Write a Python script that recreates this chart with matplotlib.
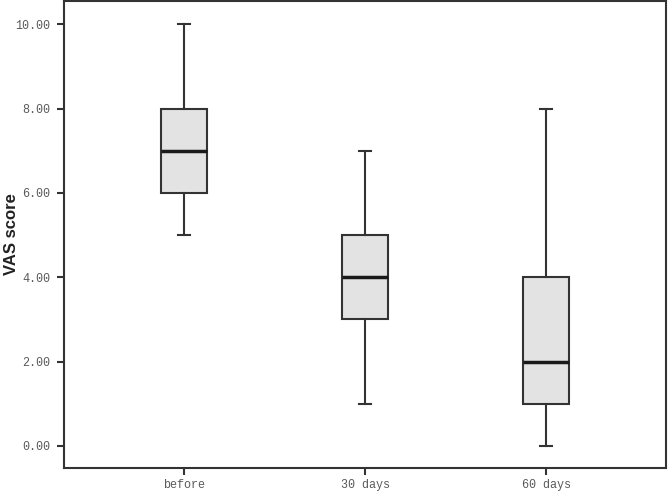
import matplotlib
matplotlib.use("Agg")
import matplotlib.pyplot as plt

# Box plot summary values
categories = ['before', '30 days', '60 days']
whisker_low = [5.0, 1.0, 0.0]
q1 = [6.0, 3.0, 1.0]
median = [7.0, 4.0, 2.0]
q3 = [8.0, 5.0, 4.0]
whisker_high = [10.0, 7.0, 8.0]
y_ticks = [0, 2, 4, 6, 8, 10]

stats = []
for i, name in enumerate(categories):
    stats.append({
        'label': name,
        'whislo': whisker_low[i],
        'q1': q1[i],
        'med': median[i],
        'q3': q3[i],
        'whishi': whisker_high[i],
        'fliers': [],
    })

fig = plt.figure(figsize=(6.68, 4.95), dpi=100)
ax = fig.add_axes([0.096, 0.055, 0.901, 0.943])

ax.bxp(
    stats,
    positions=range(len(categories)),
    widths=0.254,
    patch_artist=True,
    showfliers=False,
    boxprops=dict(facecolor='#e3e3e3', edgecolor='#333333', linewidth=1.5),
    medianprops=dict(color='#1a1a1a', linewidth=2.5),
    whiskerprops=dict(color='#333333', linewidth=1.5),
    capprops=dict(color='#333333', linewidth=1.5),
    capwidths=0.07,
)

ax.set_xlim(-0.663, 2.663)
ax.set_ylim(-0.52, 10.55)
ax.set_yticks(y_ticks)
ax.set_yticklabels([f'{v:.2f}' for v in y_ticks])
ax.set_xticks(range(len(categories)))
ax.set_xticklabels(categories)

mono = 'Liberation Mono'
for lab in ax.get_xticklabels() + ax.get_yticklabels():
    lab.set_fontfamily(mono)
    lab.set_fontsize(8.5)
    lab.set_color('#5a5a5a')

ax.tick_params(axis='both', direction='out', length=5, width=1.5, color='#333333')
ax.tick_params(axis='y', pad=5)
ax.tick_params(axis='x', pad=3)

for spine in ax.spines.values():
    spine.set_linewidth(1.5)
    spine.set_color('#333333')

ax.set_ylabel('VAS score', fontfamily='Liberation Sans', fontweight='bold',
              fontsize=12, color='#222222')
ax.yaxis.label.set_verticalalignment('center')
ax.yaxis.set_label_coords(-0.088, 0.50)

fig.savefig('out.png', dpi=100)
plt.close(fig)
